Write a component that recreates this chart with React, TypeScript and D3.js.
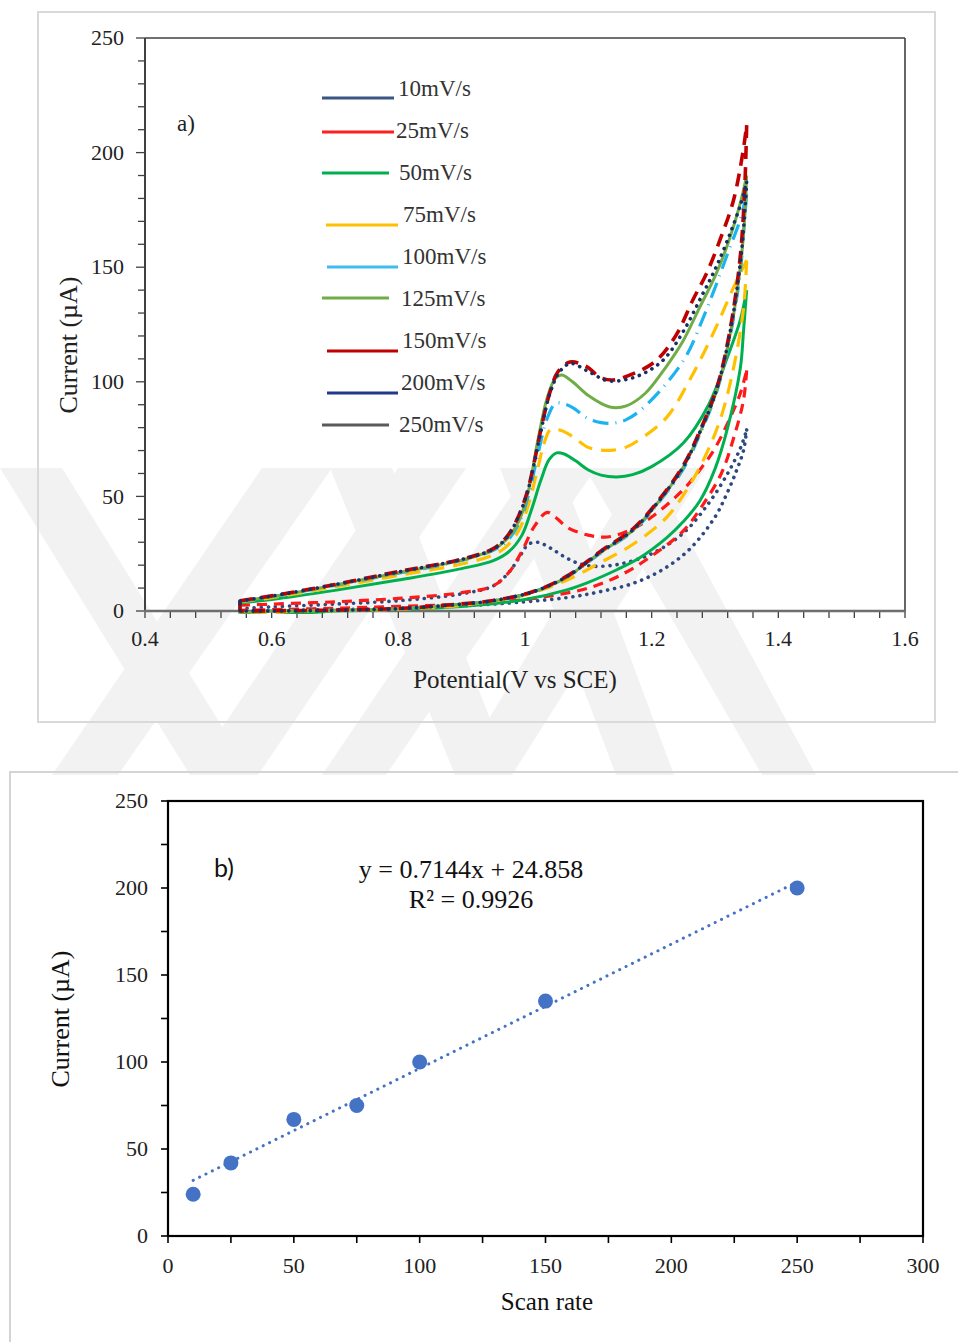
import React from 'react';
import * as d3 from 'd3';

// ---- chart a) cyclic voltammograms, [potential V, current uA]
const rateLabels = ['10mV/s', '25mV/s', '50mV/s', '75mV/s', '100mV/s', '125mV/s', '150mV/s', '200mV/s', '250mV/s'];

const cv10Up = [[0.55,1],[0.6,1.8],[0.7,3],[0.8,4.5],[0.9,7.5],[0.95,11],[0.975,17],[0.99,23],[1.005,29],[1.02,30],[1.04,27.5],[1.06,24],[1.082,21],[1.11,19.5],[1.15,20.5],[1.2,25],[1.25,34],[1.29,47],[1.32,60],[1.34,71],[1.35,79]];
const cv10Down = [[1.35,79],[1.345,70],[1.335,62],[1.32,52],[1.3,41],[1.26,27],[1.217,18],[1.17,12],[1.12,8.5],[1.07,6],[1.0,4],[0.9,2.2],[0.8,1.2],[0.7,0.6],[0.6,0.2],[0.55,0]];
const cv25Up = [[0.55,2.5],[0.6,3],[0.7,4],[0.8,5.5],[0.9,8],[0.95,11],[0.975,17],[0.995,26],[1.015,37],[1.035,43],[1.05,40.5],[1.066,36.6],[1.098,33.2],[1.13,32.3],[1.166,35.3],[1.2,41],[1.25,53],[1.28,63],[1.3,71],[1.325,85],[1.34,95],[1.35,105]];
const cv25Down = [[1.35,105],[1.345,92],[1.33,76],[1.31,60],[1.28,46],[1.25,35],[1.2,24],[1.15,15.5],[1.1,10],[1.05,7],[1.0,5],[0.9,3],[0.8,2],[0.7,1.2],[0.6,0.6],[0.55,0.3]];
const cv50Up = [[0.55,3.5],[0.6,5],[0.7,9],[0.8,13.5],[0.9,18.5],[0.95,22],[0.975,26],[0.995,33],[1.01,44],[1.025,57],[1.038,66],[1.05,69],[1.062,68.5],[1.08,65.5],[1.1,61.5],[1.12,59.3],[1.145,58.5],[1.17,59.5],[1.2,63],[1.25,73.3],[1.29,90],[1.32,111],[1.34,127],[1.35,140]];
const cv50Down = [[1.35,140],[1.345,122],[1.34,106],[1.32,80],[1.3,62],[1.276,48],[1.25,39],[1.224,32],[1.18,23],[1.145,18],[1.1,12.5],[1.066,9.2],[1.0,5],[0.9,2],[0.8,0.8],[0.72,0.1],[0.7,0],[0.6,-2],[0.55,-3]];
const cv75Up = [[0.55,4],[0.6,5.8],[0.7,10.5],[0.8,15.5],[0.9,20.5],[0.95,24.5],[0.97,28],[0.99,35],[1.005,46],[1.02,62],[1.03,73],[1.04,79],[1.055,79],[1.076,76],[1.098,71.6],[1.12,70.2],[1.14,70.2],[1.16,71.5],[1.182,75],[1.224,84.6],[1.26,100.8],[1.297,121],[1.329,141],[1.35,153]];
const cv75Down = [[1.35,153],[1.345,132],[1.33,107],[1.31,85],[1.287,69],[1.26,55],[1.224,41],[1.17,29],[1.118,21],[1.07,14],[1.0,7],[0.9,2.5],[0.8,0.8],[0.7,0.2],[0.64,0],[0.55,-2]];
const cv100Up = [[0.55,4.2],[0.6,6.2],[0.7,11.2],[0.8,16.5],[0.9,22],[0.95,26.5],[0.97,30],[0.99,38],[1.005,50],[1.02,68],[1.035,84],[1.048,90.5],[1.06,90.5],[1.076,88.6],[1.098,84.2],[1.12,82.2],[1.14,82],[1.16,83.5],[1.182,87.5],[1.224,99.5],[1.256,112],[1.28,127],[1.3,141],[1.32,156],[1.34,171],[1.35,182]];
const cv100Down = [[1.35,182],[1.345,165],[1.34,148],[1.324,120],[1.303,96],[1.276,77],[1.25,62],[1.213,48],[1.171,35],[1.118,25],[1.066,14.8],[1.013,8.3],[0.95,4.5],[0.9,3],[0.8,1],[0.7,0.3],[0.6,0],[0.55,-1]];
const cv125Up = [[0.55,4.3],[0.6,6.3],[0.7,11.3],[0.8,16.7],[0.9,22.2],[0.95,26.8],[0.97,31],[0.99,39],[1.005,52],[1.02,74],[1.035,93],[1.048,101.5],[1.058,103],[1.075,100],[1.1,94],[1.134,89],[1.16,89.5],[1.19,95],[1.224,107],[1.25,118],[1.276,132.6],[1.3,146],[1.32,160],[1.34,178],[1.35,190]];
const cv125Down = [[1.35,190],[1.347,172],[1.34,150],[1.324,121],[1.303,96.4],[1.276,77.7],[1.25,62.8],[1.213,48.4],[1.171,35.3],[1.118,25.3],[1.066,14.8],[1.013,8.3],[0.95,4.5],[0.9,3],[0.8,1],[0.7,0.3],[0.6,0],[0.55,-1]];
const cv150Up = [[0.55,4.5],[0.6,6.6],[0.7,11.6],[0.8,17.2],[0.9,22.6],[0.95,27.2],[0.971,32.3],[0.987,39.7],[1.003,51.5],[1.013,62.8],[1.024,77.7],[1.04,96],[1.052,104.4],[1.071,108.6],[1.098,106.5],[1.118,102],[1.139,100.8],[1.166,103],[1.193,106.5],[1.213,110.8],[1.24,121],[1.265,135.7],[1.287,147.5],[1.308,162],[1.329,179],[1.344,200],[1.35,212]];
const cv150Down = [[1.35,212],[1.347,185],[1.34,155],[1.324,123],[1.303,97.5],[1.276,78.5],[1.25,63.5],[1.213,49],[1.171,36],[1.118,25.8],[1.066,15.2],[1.013,8.5],[0.95,4.6],[0.9,3.1],[0.8,1.1],[0.7,0.4],[0.6,0.1],[0.55,0]];
const cv200Up = [[0.55,4.4],[0.6,6.5],[0.7,11.5],[0.8,17],[0.9,22.5],[0.95,27],[0.971,32],[0.987,39.5],[1.003,51],[1.013,62.5],[1.024,77],[1.04,95.5],[1.055,104.5],[1.072,108],[1.1,104.5],[1.13,100.5],[1.16,101],[1.19,104],[1.22,110],[1.25,122],[1.28,138],[1.3,149],[1.32,162],[1.34,177],[1.35,187]];
const cv200Down = [[1.35,187],[1.346,170],[1.34,152],[1.324,122],[1.303,97],[1.276,78],[1.25,63],[1.213,48.6],[1.171,35.6],[1.118,25.5],[1.066,15],[1.013,8.4],[0.95,4.5],[0.9,3],[0.8,1],[0.7,0.3],[0.6,0],[0.55,0]];

const xTicksA = [0.4, 0.6, 0.8, 1, 1.2, 1.4, 1.6];
const yTicksA = [0, 50, 100, 150, 200, 250];

// ---- chart b) peak current vs scan rate
const scanRates = [10, 25, 50, 75, 100, 150, 250];
const peakCurrents = [24, 42, 67, 75, 100, 135, 200];
const fitSlope = 0.7144;
const fitIntercept = 24.858;
const xTicksB = [0, 50, 100, 150, 200, 250, 300];
const yTicksB = [0, 50, 100, 150, 200, 250];

const styles = {
  '10mV/s': { color: '#2d4a80', legend: '#3b5585', dash: '0.1 7', w: 3.6 },
  '25mV/s': { color: '#ff1a1a', legend: '#ff2020', dash: '10 7', w: 3.2 },
  '50mV/s': { color: '#00b050', legend: '#00b050', dash: null, w: 3 },
  '75mV/s': { color: '#ffc000', legend: '#ffc000', dash: '15 9', w: 3.2 },
  '100mV/s': { color: '#1cb4f0', legend: '#3fbdf0', dash: '16 7 1 7', w: 3.2 },
  '125mV/s': { color: '#70ad47', legend: '#70ad47', dash: null, w: 3 },
  '150mV/s': { color: '#c00000', legend: '#c00000', dash: '13 8', w: 3.6 },
  '200mV/s': { color: '#1a2d66', legend: '#1f3a8a', dash: '0.1 7', w: 3.6 },
  '250mV/s': { color: '#595959', legend: '#5a5a5a', dash: null, w: 3 },
};

// legend layout: line x1, x2, line y, text x, text mid y
const legendLayout = [
  [322, 394, 98, 398, 88],
  [322, 394, 132, 396, 130],
  [322, 389, 173, 399, 172],
  [326, 398, 225, 403, 214],
  [327, 398, 267, 402, 256],
  [322, 389, 298, 401, 298],
  [327, 398, 351, 402, 340],
  [327, 398, 393, 401, 382],
  [322, 389, 425, 399, 424],
];

// faint background watermark bands (top x range, bottom x range)
const bandTop = 468, bandBottom = 775;
const watermark = [
  [[0, 62], [190, 252]],
  [[262, 332], [52, 118]],
  [[398, 466], [190, 258]],
  [[530, 596], [322, 386]],
  [[330, 392], [455, 512]],
  [[640, 706], [455, 512]],
  [[500, 560], [616, 674]],
  [[585, 650], [762, 816]],
];

const serif = '"Liberation Serif", "Times New Roman", serif';

const App = () => {
  const xA = d3.scaleLinear().domain([0.4, 1.6]).range([145, 905]);
  const yA = d3.scaleLinear().domain([0, 250]).range([611, 38]);
  const xB = d3.scaleLinear().domain([0, 300]).range([168, 923]);
  const yB = d3.scaleLinear().domain([0, 250]).range([1236, 801]);

  const lineA = d3.line().x(d => xA(d[0])).y(d => yA(d[1])).curve(d3.curveCatmullRom.alpha(0.5));

  const cvSeries = [
    { label: '10mV/s', up: cv10Up, down: cv10Down },
    { label: '25mV/s', up: cv25Up, down: cv25Down },
    { label: '50mV/s', up: cv50Up, down: cv50Down },
    { label: '75mV/s', up: cv75Up, down: cv75Down },
    { label: '100mV/s', up: cv100Up, down: cv100Down },
    { label: '125mV/s', up: cv125Up, down: cv125Down },
    { label: '150mV/s', up: cv150Up, down: cv150Down },
    { label: '200mV/s', up: cv200Up, down: cv200Down },
  ];

  const pathFor = (s) => {
    const last = s.down[s.down.length - 1];
    const first = s.up[0];
    const close = d3.line().x(d => xA(d[0])).y(d => yA(d[1]))([last, first]);
    return lineA(s.up) + lineA(s.down) + close;
  };

  const xMinorA = d3.range(0, 31).map(i => 0.4 + i * 0.04);
  const yMinorA = d3.range(0, 26).map(i => i * 10);
  const xMinorB = d3.range(0, 13).map(i => i * 25);
  const yMinorB = d3.range(0, 11).map(i => i * 25);

  const fitLine = d3.line().x(d => xB(d)).y(d => yB(fitSlope * d + fitIntercept));

  return (
    <svg width={958} height={1342} style={{ position: 'absolute', left: 0, top: 0, background: '#fff' }}>
      <defs>
        <clipPath id="plotA">
          <rect x={145} y={38} width={760} height={576} />
        </clipPath>
      </defs>
      <rect x={0} y={0} width={958} height={1342} fill="#fff" />

      {/* watermark */}
      <g fill="#f2f2f2">
        {watermark.map((b, i) => (
          <polygon key={i} points={`${b[0][0]},${bandTop} ${b[0][1]},${bandTop} ${b[1][1]},${bandBottom} ${b[1][0]},${bandBottom}`} />
        ))}
      </g>

      {/* ---------- chart a ---------- */}
      <rect x={38} y={12} width={897} height={710} fill="none" stroke="#d9d9d9" strokeWidth={2} />

      <g fontFamily={serif} fontSize={22} fill="#222">
        {yTicksA.map(t => (
          <text key={t} x={124} y={yA(t)} dy="0.33em" textAnchor="end">{t}</text>
        ))}
        {xTicksA.map(t => (
          <text key={t} x={xA(t)} y={646} textAnchor="middle">{t}</text>
        ))}
      </g>
      <g stroke="#404040" strokeWidth={1.3}>
        {yMinorA.map(t => (
          <line key={t} x1={t % 50 === 0 ? 136 : 138} x2={145} y1={yA(t)} y2={yA(t)} />
        ))}
        {xMinorA.map((t, i) => (
          <line key={i} x1={xA(t)} x2={xA(t)} y1={611} y2={618} />
        ))}
      </g>
      <line x1={145} x2={905} y1={38} y2={38} stroke="#404040" strokeWidth={1.6} />
      <line x1={905} x2={905} y1={38} y2={611} stroke="#404040" strokeWidth={1.6} />
      <line x1={145} x2={145} y1={38} y2={611} stroke="#404040" strokeWidth={2} />
      <line x1={144} x2={906} y1={611} y2={611} stroke="#6e6e6e" strokeWidth={2.6} />

      <g clipPath="url(#plotA)" fill="none">
        {cvSeries.map(s => {
          const st = styles[s.label];
          return (
            <path key={s.label} d={pathFor(s)} stroke={st.color} strokeWidth={st.w}
              strokeDasharray={st.dash || undefined} strokeLinecap={st.dash && st.dash.startsWith('0.1') ? 'round' : 'butt'} />
          );
        })}
      </g>

      {/* legend */}
      <g fontFamily={serif} fontSize={23} fill="#333">
        {rateLabels.map((lab, i) => {
          const [x1, x2, ly, tx, ty] = legendLayout[i];
          return (
            <g key={lab}>
              <line x1={x1} x2={x2} y1={ly} y2={ly} stroke={styles[lab].legend} strokeWidth={3} />
              <text x={tx} y={ty} dy="0.34em">{lab}</text>
            </g>
          );
        })}
      </g>

      <text x={186} y={123} dy="0.34em" textAnchor="middle" fontFamily={serif} fontSize={23} fill="#222">a)</text>
      <text x={515} y={679} dy="0.34em" textAnchor="middle" fontFamily={serif} fontSize={25} fill="#222">Potential(V vs SCE)</text>
      <text transform={`translate(68,345) rotate(-90)`} dy="0.34em" textAnchor="middle" fontFamily={serif} fontSize={26} fill="#222">Current (µA)</text>

      {/* ---------- chart b ---------- */}
      <rect x={10} y={772} width={960} height={600} fill="none" stroke="#d4d4d4" strokeWidth={2} />

      <g fontFamily={serif} fontSize={22} fill="#222">
        {yTicksB.map(t => (
          <text key={t} x={148} y={yB(t)} dy="0.33em" textAnchor="end">{t}</text>
        ))}
        {xTicksB.map(t => (
          <text key={t} x={xB(t)} y={1273} textAnchor="middle">{t}</text>
        ))}
      </g>
      <g stroke="#000" strokeWidth={1.6}>
        {yMinorB.map(t => (
          <line key={t} x1={161} x2={168} y1={yB(t)} y2={yB(t)} />
        ))}
        {xMinorB.map(t => (
          <line key={t} x1={xB(t)} x2={xB(t)} y1={1236} y2={1243} />
        ))}
      </g>
      <rect x={168} y={801} width={755} height={435} fill="none" stroke="#000" strokeWidth={2.2} />

      <path d={fitLine([scanRates[0], scanRates[scanRates.length - 1]])} fill="none" stroke="#4472c4"
        strokeWidth={3} strokeDasharray="0.1 7" strokeLinecap="round" />
      <g fill="#4472c4">
        {scanRates.map((r, i) => (
          <circle key={r} cx={xB(r)} cy={yB(peakCurrents[i])} r={7.5} />
        ))}
      </g>

      <text x={224} y={868} dy="0.35em" textAnchor="middle" fontFamily='Lato, "Open Sans", sans-serif' fontSize={25} fill="#111">b)</text>
      <text x={471} y={869} dy="0.34em" textAnchor="middle" fontFamily={serif} fontSize={26} fill="#111">{`y = ${fitSlope}x + ${fitIntercept}`}</text>
      <text x={471} y={899} dy="0.34em" textAnchor="middle" fontFamily={serif} fontSize={26} fill="#111">R² = 0.9926</text>
      <text x={547} y={1301} dy="0.34em" textAnchor="middle" fontFamily={serif} fontSize={25} fill="#111">Scan rate</text>
      <text transform={`translate(60,1019) rotate(-90)`} dy="0.34em" textAnchor="middle" fontFamily={serif} fontSize={26} fill="#111">Current (µA)</text>
    </svg>
  );
};

export default App;
